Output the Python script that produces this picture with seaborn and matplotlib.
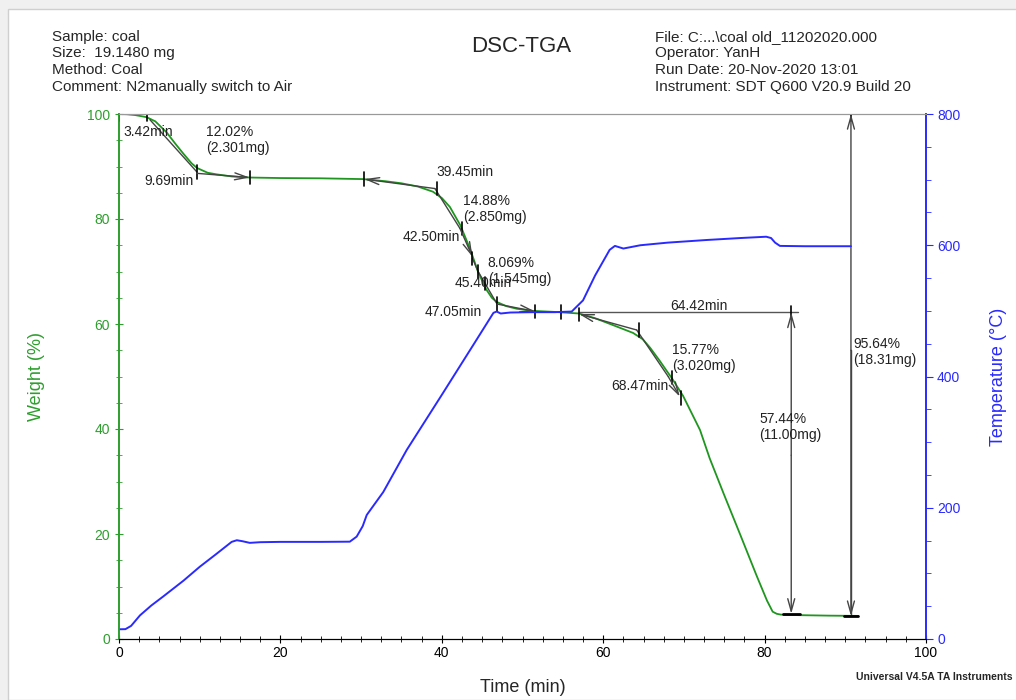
import matplotlib.pyplot as plt
import matplotlib.patches as mpatches
import matplotlib.ticker as mticker
import numpy as np
import seaborn as sns

# TGA weight curve (Time min, Weight %)
time_w = [0, 1, 2, 3.42, 4.5, 5.9, 7, 8, 9, 9.69, 11, 12.1, 14, 16.2, 20, 25,
          30.2, 33, 35, 37, 38.9, 40, 41, 42.3, 43.5, 44.5, 45.5, 46.2, 46.8,
          48, 49.3, 51.3, 54, 57, 59, 61.2, 63.7, 64.9, 65.8, 67, 67.9, 68.5,
          69.9, 71, 72, 73.2, 75, 77, 79, 80.3, 81, 81.5, 82, 84, 88, 91.6]
weight_pct = [100.0, 99.95, 99.8, 99.4, 98.6, 96.5, 94.3, 92.4, 90.6, 89.7,
              88.8, 88.5, 88.1, 87.9, 87.8, 87.75, 87.6, 87.2, 86.8, 86.2,
              85.2, 84.0, 82.3, 78.8, 74.3, 69.9, 66.6, 65.0, 64.2, 63.4,
              62.9, 62.5, 62.3, 62.0, 61.1, 59.8, 58.3, 57.1, 55.5, 53.0,
              51.0, 49.7, 46.3, 42.9, 39.8, 34.4, 27.4, 19.8, 12.1, 7.3, 5.2,
              4.8, 4.65, 4.55, 4.45, 4.4]

# Temperature program (Time min, Temperature C)
time_t = [0, 0.8, 1.5, 2.6, 4, 5.5, 8, 10, 12, 13.96, 14.6, 15.3, 16.2, 17.5,
          20, 25, 28.6, 29.45, 30.2, 30.7, 32.75, 35.65, 40, 44, 46.4, 46.8,
          47.3, 48.5, 51.3, 54, 56.1, 57.5, 59, 60.8, 61.45, 62.5, 64.6, 68,
          72.8, 77, 80.2, 80.8, 81.3, 81.9, 85, 90.7]
temp_c = [14.8, 15, 20, 36, 51, 65, 89, 110, 129, 148, 150.5, 149, 146.5,
          147.5, 148, 148, 148.3, 156, 172, 189, 224, 288, 372, 450, 497, 499,
          496, 497.5, 498, 498, 499, 516, 554, 593, 599, 595, 600, 604, 608,
          611, 613, 611, 604, 599, 598.5, 598.5]

header_left = ["Sample: coal", "Size:  19.1480 mg", "Method: Coal",
               "Comment: N2manually switch to Air"]
header_right = ["File: C:...\\coal old_11202020.000", "Operator: YanH",
                "Run Date: 20-Nov-2020 13:01",
                "Instrument: SDT Q600 V20.9 Build 20"]

green = "#1f961f"
green_txt = "#2e9e2e"
blue = "#2a2aff"
grey = "#444444"

sns.set_style("ticks")
plt.rcParams["font.family"] = ["Liberation Sans", "DejaVu Sans"]

fig = plt.figure(figsize=(10.16, 7), dpi=100)
fig.patch.set_facecolor("#f0f0f0")
fig.patches.append(mpatches.Rectangle((8 / 1016, 0), 1, 691 / 700,
                                      transform=fig.transFigure,
                                      facecolor="white", edgecolor="#cfcfcf",
                                      lw=1, zorder=-10))

ax = fig.add_axes([119 / 1016, 61 / 700, 807 / 1016, 525 / 700])
ax.set_facecolor("none")
ax2 = ax.twinx()

sns.lineplot(x=time_w, y=weight_pct, ax=ax, color=green, lw=1.3, zorder=3)
sns.lineplot(x=time_t, y=temp_c, ax=ax2, color=blue, lw=1.4)

ax.set_xlim(0, 100)
ax.set_ylim(0, 100)
ax2.set_ylim(0, 800)

# ticks
ax.xaxis.set_major_locator(mticker.MultipleLocator(20))
ax.xaxis.set_minor_locator(mticker.MultipleLocator(2.5))
ax.yaxis.set_major_locator(mticker.MultipleLocator(20))
ax.yaxis.set_minor_locator(mticker.MultipleLocator(5))
ax2.yaxis.set_major_locator(mticker.MultipleLocator(200))
ax2.yaxis.set_minor_locator(mticker.MultipleLocator(50))

ax.tick_params(axis="x", which="major", direction="inout", length=6, pad=2,
               labelsize=10, colors="black")
ax.tick_params(axis="x", which="minor", direction="inout", length=4, colors="black")
ax.tick_params(axis="y", which="major", direction="inout", length=6, pad=3.5,
               labelsize=10, colors=green_txt)
ax.tick_params(axis="y", which="minor", direction="inout", length=4, colors=green_txt)
ax2.tick_params(axis="y", which="major", direction="out", length=5, pad=3,
                labelsize=10, colors=blue)
ax2.tick_params(axis="y", which="minor", direction="out", length=3.5, colors=blue)

for a in (ax, ax2):
    a.spines["left"].set_color(green_txt)
    a.spines["right"].set_color(blue)
    a.spines["bottom"].set_color("black")
    a.spines["top"].set_color("#999999")
    a.spines["left"].set_linewidth(1.2)
    a.spines["right"].set_linewidth(1.2)
ax2.spines["right"].set_visible(True)

ax.set_xlabel("Time (min)", fontsize=13)
ax.xaxis.set_label_coords(0.5, -0.076)
ax.set_ylabel("Weight (%)", fontsize=13, color=green_txt)
ax.yaxis.set_label_coords(-0.092, 0.5)
ax2.set_ylabel("Temperature (°C)", fontsize=13, color=blue)
ax2.yaxis.set_label_coords(1.079, 0.5)


# step annotations (helpers)
def seg(p0, p1, color=grey, lw=1.0):
    ax.plot([p0[0], p1[0]], [p0[1], p1[1]], color=color, lw=lw, zorder=4)


def vtick(t, w, h=1.3):
    ax.plot([t, t], [w - h, w + h], color="black", lw=1.2, zorder=5)


def arrow(p0, p1, style="->", color=grey):
    ax.annotate("", xy=p1, xytext=p0,
                arrowprops=dict(arrowstyle=style + ",head_length=0.9,head_width=0.25",
                                color=color, lw=1.0, shrinkA=0, shrinkB=0),
                zorder=5)


# 95.64 % total loss
seg((0, 100), (91.7, 100), color="black", lw=1.4)
vtick(0, 100)
vtick(90.7, 100)
arrow((90.7, 55), (90.7, 100))
arrow((90.7, 55), (90.7, 4.36))
seg((90.7, 55), (90.7, 4.36))
seg((89.9, 4.36), (91.6, 4.36), color="black", lw=2)

# step 1
vtick(3.42, 99.9)
seg((3.84, 98.9), (9.63, 89.0))
vtick(9.69, 89.0)
arrow((9.63, 88.7), (16.2, 87.9))
vtick(16.2, 87.9)

# step 2
vtick(30.4, 87.6)
arrow((39.15, 85.8), (30.4, 87.6))
vtick(39.45, 85.8)
seg((39.15, 85.8), (42.25, 78.2))
vtick(42.5, 78.2)
arrow((42.25, 78.2), (43.8, 72.8))

# step 3
vtick(43.8, 72.5)
seg((43.8, 72.5), (44.5, 70.0))
vtick(44.5, 70.0)
seg((44.5, 70.0), (46.85, 63.8))
vtick(45.4, 67.7)
vtick(46.85, 63.8)
arrow((46.85, 63.8), (51.55, 62.4))
vtick(51.55, 62.4)

# step 4
vtick(54.8, 62.3)
vtick(57.0, 61.8)
arrow((64.15, 58.86), (57.0, 61.9))
vtick(64.42, 58.86)
seg((64.15, 58.86), (68.07, 49.96))
vtick(68.47, 49.8)
arrow((68.07, 49.96), (69.5, 46.15))
vtick(69.6, 45.9)

# 57.44 % residue step
seg((57.0, 62.2), (84.1, 62.2), color="#555555")
vtick(83.3, 62.2)
arrow((83.3, 35), (83.3, 62.2))
arrow((83.3, 35), (83.3, 4.8))
seg((82.3, 4.8), (84.4, 4.8), color="black", lw=2)

# annotation labels
labels = [
    (0.5, 96.6, "3.42min"),
    (10.8, 95.0, "12.02%\n(2.301mg)"),
    (3.2, 87.2, "9.69min"),
    (39.3, 89.0, "39.45min"),
    (42.6, 81.9, "14.88%\n(2.850mg)"),
    (35.1, 76.6, "42.50min"),
    (45.7, 70.1, "8.069%\n(1.545mg)"),
    (41.6, 67.8, "45.40min"),
    (37.9, 62.3, "47.05min"),
    (68.3, 63.4, "64.42min"),
    (68.5, 53.5, "15.77%\n(3.020mg)"),
    (61.0, 48.2, "68.47min"),
    (79.3, 40.4, "57.44%\n(11.00mg)"),
    (91.0, 54.7, "95.64%\n(18.31mg)"),
]
for t, w, s in labels:
    ax.text(t, w, s, fontsize=10, ha="left", va="center", color="#222222",
            zorder=6)

# header
for i, s in enumerate(header_left):
    fig.text(52 / 1016, 1 - (37 + i * 16.5) / 700, s, fontsize=11, va="center")
for i, s in enumerate(header_right):
    fig.text(655 / 1016, 1 - (37 + i * 16.5) / 700, s, fontsize=11, va="center")
fig.text(521 / 1016, 1 - 46 / 700, "DSC-TGA", fontsize=16, ha="center",
         va="center")
fig.text(1012 / 1016, 1 - 677 / 700, "Universal V4.5A TA Instruments",
         fontsize=7.5, fontweight="bold", ha="right", va="center")

fig.savefig("out.png", dpi=100)
